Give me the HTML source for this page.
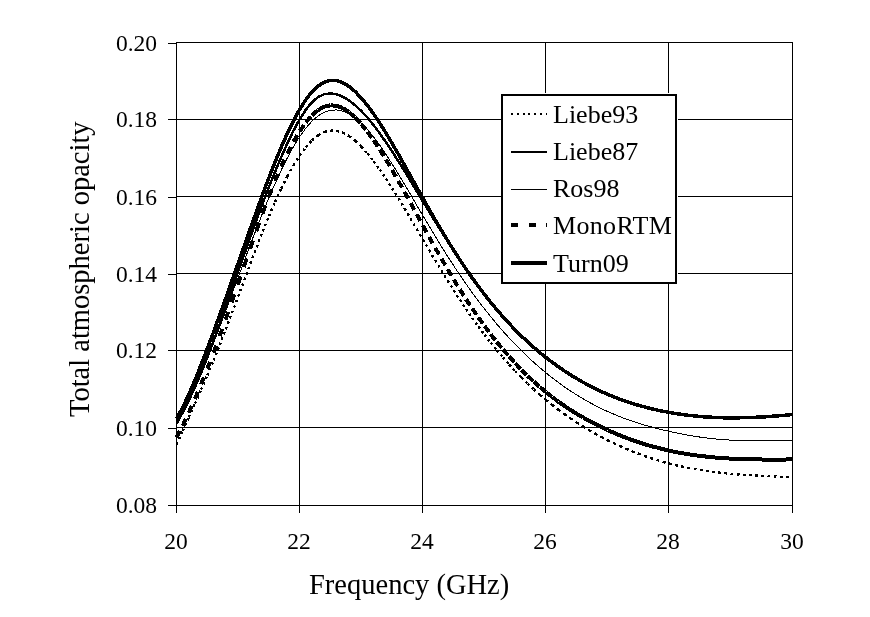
<!DOCTYPE html>
<html lang="en"><head><meta charset="utf-8"><title>Total atmospheric opacity vs frequency</title>
<style>
html,body{margin:0;padding:0;background:#fff}
#c{position:relative;width:870px;height:617px;overflow:hidden;background:#fff;font-family:"Liberation Serif",serif;color:#000}
.t{position:absolute;white-space:nowrap;line-height:1}
.yl{font-size:23.5px;width:60px;text-align:right;left:97px}
.xl{font-size:23.5px;width:60px;text-align:center;top:530px}
.lg{font-size:26px;left:553px}
.ti{font-size:28.5px}
</style></head><body>
<div id="c">
<svg width="870" height="617" viewBox="0 0 870 617" style="position:absolute;left:0;top:0" shape-rendering="crispEdges">
<rect x="0" y="0" width="870" height="617" fill="#fff"/>
<path d="M176 119.5H793M176 196.5H793M176 273.5H793M176 350.5H793M176 427.5H793M299.5 42V506M422.5 42V506M545.5 42V506M668.5 42V506" stroke="#000" stroke-width="1" fill="none"/>
<path d="M176.5 42V513M176 42.5H793M792.5 42V513M168 505.5H793" stroke="#000" stroke-width="1" fill="none"/>
<path d="M168 43.5H177M168 119.5H177M168 197.5H177M168 274.5H177M168 350.5H177M168 428.5H177M299.5 505V513M422.5 505V513M545.5 505V513M668.5 505V513" stroke="#000" stroke-width="1" fill="none"/>
<g fill="none" stroke="#000" stroke-linejoin="miter">
<path d="M176.5 444.6L177.5 442.3M178.9 439.2L179.9 437.0M181.3 433.9L182.3 431.6M182.7 430.9L183.7 428.6M185.1 425.5L186.1 423.3M187.5 420.2L188.5 418.0M188.8 417.3L189.8 415.0M191.2 412.0L192.2 409.7M193.6 406.7L194.6 404.4M195.0 403.6L196.0 401.3M197.3 398.3L198.4 396.0M199.7 393.0L200.7 390.7M201.1 389.7L202.1 387.4M203.4 384.4L204.4 382.1M205.7 379.0L206.7 376.7M207.3 375.4L208.3 373.1M209.5 370.0L210.5 367.7M211.8 364.6L212.7 362.3M213.5 360.5L214.4 358.2M215.6 355.1L216.6 352.8M217.8 349.7L218.7 347.4M219.6 345.1L220.5 342.8M221.7 339.7L222.6 337.4M223.8 334.3L224.8 331.9M225.8 329.3L226.7 326.9M227.9 323.8L228.7 321.5M229.9 318.4L230.8 316.0M231.9 313.1L232.8 310.7M234.0 307.6L234.9 305.3M236.0 302.2L236.9 299.8M238.1 296.7L238.1 296.6M238.1 296.6L239.0 294.3M240.1 291.2L241.0 288.8M242.2 285.7L243.0 283.4M244.2 280.2L244.3 280.1M244.3 280.1L245.1 277.7M246.3 274.6L247.2 272.3M248.3 269.1L249.2 266.8M250.4 263.7L250.4 263.5M250.4 263.5L251.3 261.2M252.5 258.1L253.4 255.7M254.5 252.6L255.4 250.3M256.6 247.2L257.5 244.9M258.7 241.8L259.6 239.5M260.8 236.4L261.7 234.0M262.7 231.4L263.7 229.1M264.9 226.0L265.9 223.7M267.1 220.6L268.1 218.3M268.9 216.2L269.9 213.9M271.2 210.9L272.2 208.6M273.5 205.5L274.5 203.2M275.1 201.9L276.1 199.6M277.5 196.6L278.6 194.3M280.0 191.3L281.0 189.0M281.2 188.6L282.3 186.3M283.8 183.3L285.0 181.1M286.5 178.1L287.4 176.3M287.4 176.3L288.6 174.1M290.2 171.2L291.4 169.0M293.1 166.1L293.5 165.3M293.5 165.3L294.9 163.2M296.7 160.3L298.0 158.2M299.7 155.5L301.2 153.5M303.2 150.8L304.6 148.8M305.9 147.2L307.5 145.3M309.8 142.9L311.5 141.0M312.0 140.4L313.9 138.8M316.5 136.7L318.2 135.3M318.2 135.3L320.4 134.1M323.3 132.5L324.3 132.0M324.3 132.0L326.8 131.4M330.0 130.6L330.5 130.5M330.5 130.5L333.0 130.6M336.3 130.7L336.7 130.7M336.7 130.7L339.0 131.4M342.2 132.4L342.8 132.6M342.8 132.6L345.0 133.8M347.9 135.4L349.0 136.0M349.0 136.0L351.0 137.5M353.6 139.5L355.1 140.7M355.1 140.7L356.9 142.4M359.4 144.7L361.2 146.5M361.3 146.6L363.0 148.4M365.2 150.9L366.9 152.8M367.5 153.4L369.0 155.4M371.1 158.0L372.7 160.0M373.6 161.2L375.1 163.2M377.1 165.9L378.5 167.9M379.8 169.6L381.2 171.7M383.1 174.4L384.5 176.5M385.9 178.7L387.3 180.8M389.1 183.6L390.5 185.7M392.1 188.2L393.4 190.3M395.2 193.1L396.5 195.3M398.3 198.1L399.6 200.2M401.3 203.1L402.6 205.2M404.3 208.1L404.4 208.3M404.4 208.3L405.7 210.4M407.4 213.3L408.7 215.4M410.4 218.3L410.6 218.6M410.6 218.6L411.8 220.8M413.5 223.7L414.8 225.8M416.5 228.7L416.7 229.1M416.7 229.1L418.0 231.2M419.7 234.1L421.0 236.3M422.6 239.1L422.9 239.6M422.9 239.6L424.2 241.7M425.9 244.6L427.1 246.7M428.8 249.6L429.1 250.0M429.1 250.0L430.3 252.1M432.0 255.0L433.3 257.2M435.0 260.0L435.2 260.3M435.2 260.3L436.5 262.5M438.2 265.3L439.5 267.5M441.3 270.3L441.4 270.5M441.4 270.5L442.7 272.7M444.4 275.5L445.8 277.6M447.5 280.5L447.5 280.5M447.5 280.5L448.9 282.6M450.7 285.5L452.0 287.6M453.7 290.3L455.1 292.4M456.9 295.2L458.2 297.3M459.9 299.8L461.2 301.9M463.1 304.6L464.5 306.7M466.0 309.0L467.4 311.1M469.3 313.8L470.8 315.9M472.2 317.9L473.6 319.9M475.6 322.7L477.0 324.7M478.3 326.5L479.8 328.5M481.8 331.2L483.3 333.2M484.5 334.8L486.0 336.7M488.1 339.4L489.6 341.4M490.7 342.7L492.2 344.6M494.3 347.2L495.9 349.2M496.8 350.3L498.4 352.2M500.6 354.7L502.2 356.7M503.0 357.6L504.6 359.4M506.8 361.9L508.5 363.8M509.1 364.5L510.8 366.3M513.1 368.8L514.8 370.6M515.3 371.2L517.0 372.9M519.4 375.3L521.1 377.1M521.5 377.5L523.2 379.2M525.6 381.6L527.4 383.3M527.6 383.5L529.4 385.2M531.9 387.5L533.7 389.2M533.8 389.3L535.6 390.9M538.1 393.2L539.9 394.8M539.9 394.8L541.8 396.4M544.4 398.5L546.1 400.0M546.1 400.0L548.0 401.6M550.6 403.7L552.3 405.0M552.3 405.0L554.2 406.5M556.9 408.6L558.4 409.7M558.4 409.7L560.4 411.2M563.1 413.2L564.6 414.3M564.6 414.3L566.6 415.7M569.4 417.6L570.7 418.6M570.7 418.6L572.8 419.9M575.6 421.8L576.9 422.7M576.9 422.7L579.0 424.0M581.8 425.8L583.1 426.5M583.1 426.5L585.2 427.8M588.1 429.6L589.2 430.3M589.2 430.3L591.4 431.5M594.3 433.1L595.4 433.8M595.4 433.8L597.6 435.0M600.5 436.5L601.5 437.1M601.5 437.1L603.8 438.3M606.7 439.8L607.7 440.3M607.7 440.3L609.9 441.4M612.9 442.8L613.9 443.3M613.9 443.3L616.1 444.3M619.1 445.7L620.0 446.1M620.0 446.1L622.3 447.2M625.4 448.5L626.2 448.8M626.2 448.8L628.5 449.8M631.6 451.1L632.3 451.4M632.3 451.4L634.7 452.3M637.8 453.5L638.5 453.8M638.5 453.8L640.8 454.6M644.0 455.8L644.7 456.0M644.7 456.0L647.0 456.8M650.2 457.9L650.8 458.1M650.8 458.1L653.2 458.9M656.4 459.9L657.0 460.1M657.0 460.1L659.4 460.8M662.6 461.7L663.1 461.9M663.1 461.9L665.6 462.6M668.8 463.4L669.3 463.6M669.3 463.6L671.7 464.2M675.0 465.0L675.5 465.1M675.5 465.1L677.9 465.7M681.1 466.4L681.6 466.5M681.6 466.5L684.1 467.0M687.3 467.7L687.8 467.8M687.8 467.8L690.2 468.2M693.5 468.9L693.9 468.9M693.9 468.9L696.4 469.4M699.7 469.9L700.1 470.0M700.1 470.0L702.6 470.4M705.9 470.9L706.3 470.9M706.3 470.9L708.7 471.3M712.0 471.7L712.4 471.8M712.4 471.8L714.9 472.1M718.2 472.5L718.6 472.5M718.6 472.5L721.1 472.8M724.4 473.2L724.7 473.2M724.7 473.2L727.2 473.4M730.5 473.7L730.9 473.8M730.9 473.8L733.4 474.0M736.7 474.3L737.1 474.3M737.1 474.3L739.6 474.5M742.9 474.7L743.2 474.8M743.2 474.8L745.7 474.9M749.0 475.2L749.4 475.2M749.4 475.2L751.9 475.3M755.2 475.5L755.5 475.5M755.5 475.5L758.0 475.7M761.4 475.9L761.7 475.9M761.7 475.9L764.2 476.0M767.5 476.1L767.9 476.2M767.9 476.2L770.4 476.3M773.7 476.4L774.0 476.4M774.0 476.4L776.5 476.5M779.8 476.7L780.2 476.7M780.2 476.7L782.7 476.8M786.0 476.9L786.3 476.9M786.3 476.9L788.8 477.0M792.2 477.2L792.5 477.2" stroke-width="2.4"/>
<path d="M176.5 423.3 L182.7 412.6 L188.8 400.5 L195.0 387.1 L201.1 372.7 L207.3 357.3 L213.5 341.1 L219.6 324.2 L225.8 306.9 L231.9 289.3 L238.1 271.6 L244.3 254.1 L250.4 236.8 L256.6 219.8 L262.7 203.2 L268.9 187.1 L275.1 171.7 L281.2 157.1 L287.4 143.3 L293.5 130.6 L299.7 119.3 L305.9 109.6 L312.0 102.2 L318.2 97.0 L324.3 94.2 L330.5 93.4 L336.7 94.3 L342.8 96.7 L349.0 100.3 L355.1 105.2 L361.3 111.0 L367.5 117.7 L373.6 125.2 L379.8 133.4 L385.9 142.2 L392.1 151.4 L398.3 161.1 L404.4 170.9 L410.6 181.0 L416.7 191.2 L422.9 201.4 L429.1 211.5 L435.2 221.6 L441.4 231.5 L447.5 241.2 L453.7 250.7 L459.9 260.0 L466.0 268.9 L472.2 277.6 L478.3 286.0 L484.5 294.1 L490.7 301.9 L496.8 309.3 L503.0 316.5 L509.1 323.3 L515.3 329.8 L521.5 336.0 L527.6 341.9 L533.8 347.5 L539.9 352.8 L546.1 357.8 L552.3 362.5 L558.4 367.0 L564.6 371.2 L570.7 375.1 L576.9 378.9 L583.1 382.3 L589.2 385.6 L595.4 388.7 L601.5 391.6 L607.7 394.2 L613.9 396.8 L620.0 399.1 L626.2 401.3 L632.3 403.4 L638.5 405.2 L644.7 407.0 L650.8 408.6 L657.0 410.0 L663.1 411.3 L669.3 412.5 L675.5 413.6 L681.6 414.5 L687.8 415.3 L693.9 415.9 L700.1 416.5 L706.3 417.0 L712.4 417.3 L718.6 417.6 L724.7 417.7 L730.9 417.8 L737.1 417.8 L743.2 417.7 L749.4 417.5 L755.5 417.3 L761.7 417.0 L767.9 416.6 L774.0 416.2 L780.2 415.7 L786.3 415.1 L792.5 414.5" stroke-width="2.5"/>
<path d="M176.5 425.2 L182.7 413.8 L188.8 401.5 L195.0 388.1 L201.1 374.0 L207.3 359.0 L213.5 343.4 L219.6 327.3 L225.8 310.8 L231.9 294.1 L238.1 277.4 L244.3 260.8 L250.4 244.4 L256.6 228.3 L262.7 212.8 L268.9 197.8 L275.1 183.6 L281.2 170.2 L287.4 157.8 L293.5 146.6 L299.7 136.6 L305.9 128.1 L312.0 121.1 L318.2 115.8 L324.3 112.2 L330.5 110.3 L336.7 109.9 L342.8 111.1 L349.0 113.8 L355.1 117.8 L361.3 123.1 L367.5 129.6 L373.6 137.0 L379.8 145.3 L385.9 154.3 L392.1 163.9 L398.3 173.9 L404.4 184.2 L410.6 194.6 L416.7 205.2 L422.9 215.7 L429.1 226.1 L435.2 236.3 L441.4 246.4 L447.5 256.2 L453.7 265.7 L459.9 275.0 L466.0 283.9 L472.2 292.6 L478.3 300.9 L484.5 308.9 L490.7 316.6 L496.8 324.1 L503.0 331.2 L509.1 338.0 L515.3 344.5 L521.5 350.8 L527.6 356.7 L533.8 362.4 L539.9 367.8 L546.1 373.0 L552.3 377.9 L558.4 382.5 L564.6 387.0 L570.7 391.1 L576.9 395.1 L583.1 398.8 L589.2 402.3 L595.4 405.6 L601.5 408.7 L607.7 411.6 L613.9 414.2 L620.0 416.7 L626.2 419.1 L632.3 421.2 L638.5 423.2 L644.7 425.1 L650.8 426.8 L657.0 428.5 L663.1 430.0 L669.3 431.4 L675.5 432.7 L681.6 434.0 L687.8 435.1 L693.9 436.2 L700.1 437.1 L706.3 437.9 L712.4 438.7 L718.6 439.3 L724.7 439.7 L730.9 440.1 L737.1 440.3 L743.2 440.5 L749.4 440.5 L755.5 440.5 L761.7 440.4 L767.9 440.4 L774.0 440.3 L780.2 440.3 L786.3 440.3 L792.5 440.4" stroke-width="1"/>
<path d="M176.5 437.7L179.9 431.1M182.7 425.7L185.9 418.9M188.8 412.7L191.9 405.8M195.0 398.9L197.9 391.9M201.1 384.2L203.9 377.3M207.3 368.8L210.0 361.8M213.5 352.8L216.1 345.7M219.5 336.3L219.6 336.1M219.6 336.1L222.2 329.0M225.5 319.6L225.8 318.9M225.8 318.9L228.3 311.8M231.6 302.4L231.9 301.3M231.9 301.3L234.4 294.2M237.6 284.8L238.1 283.5M238.1 283.5L240.5 276.4M243.8 266.9L244.3 265.5M244.3 265.5L246.7 258.4M250.0 249.0L250.4 247.6M250.4 247.6L252.9 240.5M256.2 231.1L256.6 230.0M256.6 230.0L259.1 222.9M262.5 213.5L262.7 212.9M262.7 212.9L265.4 205.8M268.9 196.5L271.7 189.5M275.1 181.0L278.0 174.1M281.2 166.7L284.4 159.9M287.4 153.5L290.8 146.9M293.5 141.7L297.4 135.2M299.7 131.3L304.0 125.1M305.9 122.4L310.8 116.7M312.0 115.3L317.7 110.4M318.2 110.0L324.3 106.6M324.3 106.6L330.5 105.3M330.5 105.3L336.7 105.8M336.7 105.8L342.8 108.1M342.8 108.1L349.0 112.1M349.0 112.1L354.6 117.0M355.1 117.4L360.3 122.9M361.3 124.1L366.0 129.9M367.5 131.7L371.8 137.8M373.6 140.3L377.8 146.6M379.8 149.6L383.7 156.0M385.9 159.6L389.8 166.0M392.1 170.0L395.8 176.5M398.3 180.8L401.9 187.4M404.4 191.9L408.0 198.5M410.6 203.1L414.2 209.7M416.7 214.4L420.3 220.9M422.9 225.6L426.5 232.2M429.1 236.8L432.7 243.3M435.2 247.8L438.9 254.3M441.4 258.6L445.2 265.1M447.5 269.2L451.4 275.6M453.7 279.5L457.6 285.9M459.9 289.5L463.9 295.8M466.0 299.2L470.2 305.4M472.2 308.5L476.4 314.6M478.3 317.4L482.7 323.5M484.5 326.0L489.0 332.0M490.7 334.2L495.3 340.1M496.8 342.0L501.6 347.8M503.0 349.5L507.9 355.2M509.1 356.6L514.2 362.1M515.3 363.4L520.5 368.8M521.5 369.8L526.8 375.0M527.6 375.9L533.1 381.0M533.8 381.6L539.4 386.6M539.9 387.1L545.7 391.9M546.1 392.2L552.0 396.9M552.3 397.1L558.3 401.6M558.4 401.7L564.6 406.0M564.6 406.0L570.7 410.1M570.7 410.1L576.9 413.9M576.9 413.9L583.1 417.5M583.1 417.5L589.2 421.0M589.2 421.0L595.4 424.2M595.4 424.2L601.5 427.2M601.5 427.2L607.7 430.1M607.7 430.1L613.9 432.8M613.9 432.8L620.0 435.4M620.0 435.4L626.2 437.8M626.2 437.8L632.3 440.1M632.3 440.1L638.5 442.2M638.5 442.2L644.7 444.2M644.7 444.2L650.8 446.0M650.8 446.0L657.0 447.7M657.0 447.7L663.1 449.2M663.1 449.2L669.3 450.7M669.3 450.7L675.5 452.0M675.5 452.0L681.6 453.1M681.6 453.1L687.8 454.2M687.8 454.2L693.9 455.1M693.9 455.1L700.1 455.9M700.1 455.9L706.3 456.6M706.3 456.6L712.4 457.3M712.4 457.3L718.6 457.8M718.6 457.8L724.7 458.3M724.7 458.3L730.9 458.6M730.9 458.6L737.1 458.9M737.1 458.9L743.2 459.2M743.2 459.2L749.4 459.3M749.4 459.3L755.5 459.4M755.5 459.4L761.7 459.5M761.7 459.5L767.9 459.5M767.9 459.5L774.0 459.5M774.0 459.5L780.2 459.5M780.2 459.5L786.3 459.5M786.3 459.5L792.5 459.4" stroke-width="4"/>
<path d="M176.5 418.7 L182.7 407.4 L188.8 394.4 L195.0 380.1 L201.1 364.7 L207.3 348.7 L213.5 332.2 L219.6 315.3 L225.8 298.2 L231.9 280.8 L238.1 263.3 L244.3 245.8 L250.4 228.4 L256.6 211.1 L262.7 194.2 L268.9 177.8 L275.1 162.1 L281.2 147.2 L287.4 133.3 L293.5 120.6 L299.7 109.3 L305.9 99.6 L312.0 91.7 L318.2 85.9 L324.3 82.1 L330.5 80.4 L336.7 80.6 L342.8 82.7 L349.0 86.4 L355.1 91.5 L361.3 98.0 L367.5 105.5 L373.6 113.9 L379.8 123.2 L385.9 133.0 L392.1 143.4 L398.3 154.1 L404.4 165.0 L410.6 176.1 L416.7 187.2 L422.9 198.2 L429.1 209.1 L435.2 219.8 L441.4 230.3 L447.5 240.4 L453.7 250.3 L459.9 259.8 L466.0 269.0 L472.2 277.9 L478.3 286.3 L484.5 294.5 L490.7 302.3 L496.8 309.7 L503.0 316.8 L509.1 323.5 L515.3 330.0 L521.5 336.1 L527.6 341.9 L533.8 347.4 L539.9 352.7 L546.1 357.6 L552.3 362.3 L558.4 366.8 L564.6 371.0 L570.7 375.0 L576.9 378.7 L583.1 382.3 L589.2 385.6 L595.4 388.7 L601.5 391.6 L607.7 394.3 L613.9 396.9 L620.0 399.2 L626.2 401.4 L632.3 403.4 L638.5 405.3 L644.7 407.0 L650.8 408.6 L657.0 410.0 L663.1 411.3 L669.3 412.4 L675.5 413.5 L681.6 414.4 L687.8 415.2 L693.9 415.9 L700.1 416.5 L706.3 417.0 L712.4 417.3 L718.6 417.6 L724.7 417.8 L730.9 417.9 L737.1 417.8 L743.2 417.7 L749.4 417.6 L755.5 417.3 L761.7 417.0 L767.9 416.6 L774.0 416.1 L780.2 415.7 L786.3 415.1 L792.5 414.5" stroke-width="3.5"/>
</g>
<rect x="501" y="93" width="177" height="191" fill="#fff"/>
<rect x="502" y="95" width="174" height="188" fill="#fff" stroke="#000" stroke-width="2"/>
<g fill="none" stroke="#000">
<path d="M511 114H547" stroke-width="2" stroke-dasharray="2 3.83"/>
<path d="M511 152H547" stroke-width="2"/>
<path d="M511 189.5H547" stroke-width="1"/>
<path d="M511 225H547" stroke-width="4" stroke-dasharray="7 10.5"/>
<path d="M511 263H547" stroke-width="4"/>
</g>
</svg>
<div class="t yl" style="top:32px">0.20</div>
<div class="t yl" style="top:108px">0.18</div>
<div class="t yl" style="top:186px">0.16</div>
<div class="t yl" style="top:263px">0.14</div>
<div class="t yl" style="top:339px">0.12</div>
<div class="t yl" style="top:417px">0.10</div>
<div class="t yl" style="top:494px">0.08</div>
<div class="t xl" style="left:146px">20</div>
<div class="t xl" style="left:269px">22</div>
<div class="t xl" style="left:392px">24</div>
<div class="t xl" style="left:515px">26</div>
<div class="t xl" style="left:638px">28</div>
<div class="t xl" style="left:762px">30</div>
<div class="t lg" style="top:101.5px">Liebe93</div>
<div class="t lg" style="top:138.5px">Liebe87</div>
<div class="t lg" style="top:176px">Ros98</div>
<div class="t lg" style="top:213px;letter-spacing:0.33px">MonoRTM</div>
<div class="t lg" style="top:251px">Turn09</div>
<div class="t ti" style="left:309px;top:571px">Frequency (GHz)</div>
<div class="t ti" id="ytitle" style="left:0;top:0;transform-origin:0 0;transform:translate(65.5px,417px) rotate(-90deg)">Total atmospheric opacity</div>
</div>
</body></html>
